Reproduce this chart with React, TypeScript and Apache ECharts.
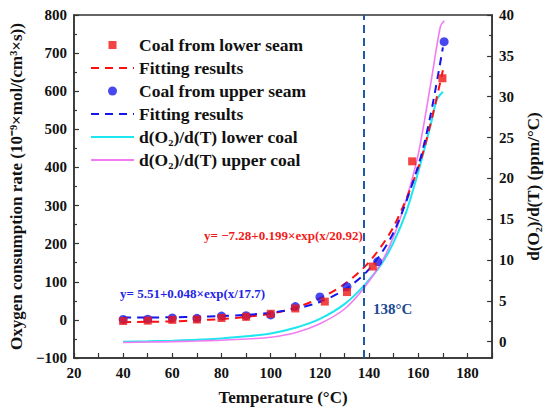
import React, { useEffect, useRef } from 'react';
import * as echarts from 'echarts';

const FONT = "'Times New Roman', 'Liberation Serif', serif";

// Experimental points
const tempLower = [40, 50, 60, 70, 80, 90, 100, 110, 122, 131, 141.5, 157.5, 169.8];
const rateLower = [-3, -2, 0, 1, 5, 8, 16, 30, 48, 73, 140, 416, 634];
const tempUpper = [40, 50, 60, 70, 80, 90, 100, 110, 120, 131, 143.5, 170.5];
const rateUpper = [1, 2, 5, 4, 10, 11, 13, 35, 60, 87, 153, 730];

// Fitted curves
const fitTemp = [40, 50, 60, 70, 80, 90, 100, 110, 120, 130, 140, 150, 160, 165, 170];
const fitLower = [-6, -5, -4, -1, 2, 8, 16, 32, 57, 94, 152, 245, 400, 515, 655];
const fitUpper = [6, 6.3, 7, 8, 10, 13, 19, 29, 47, 79, 133, 230, 405, 538, 715];

// d(O2)/d(T) curves (right axis)
const cyanTemp = [40, 50, 60, 70, 80, 90, 100, 110, 120, 130, 138, 145, 150, 155, 160, 165, 167.5, 170];
const cyanVals = [0, 0.05, 0.12, 0.22, 0.4, 0.65, 1.0, 1.7, 2.8, 4.6, 6.9, 9.5, 12.2, 15.8, 20.8, 26.5, 29.6, 30.6];
const magTemp = [40, 50, 60, 70, 80, 90, 100, 110, 120, 130, 138, 145, 150, 155, 160, 165, 169, 170.6];
const magVals = [-0.1, -0.05, 0, 0.08, 0.18, 0.32, 0.55, 1.1, 2.2, 4.0, 6.6, 9.7, 12.9, 17.3, 23, 31.5, 38.6, 39.3];

// Axis ticks
const rightMajor = [0, 5, 10, 15, 20, 25, 30, 35, 40];
const rightMinor = [2.5, 7.5, 12.5, 17.5, 22.5, 27.5, 32.5, 37.5];

const zip = (xs: number[], ys: number[]) => xs.map((x, i) => [x, ys[i]]);

const axisCommon = {
  axisLine: { show: true, onZero: false, lineStyle: { color: '#333', width: 1.5 } },
  axisTick: { show: true, inside: true, length: 5, lineStyle: { color: '#333', width: 1.2 } },
  splitLine: { show: false },
};

const labelStyle = { fontFamily: FONT, fontWeight: 'bold' as const, fontSize: 15, color: '#111' };
const nameStyle = { fontFamily: FONT, fontWeight: 'bold' as const, fontSize: 17, color: '#111' };
const hiddenSymbol = { opacity: 0, color: 'transparent', borderWidth: 0 };

export default function App() {
  const ref = useRef<HTMLDivElement>(null);
  useEffect(() => {
    const chart = echarts.init(ref.current!, null, { renderer: 'svg' });
    const option: any = {
      animation: false,
      backgroundColor: '#fff',
      grid: { left: 68, right: 55, top: 15, bottom: 59, show: true, borderColor: '#333', borderWidth: 1.5 },
      legend: {
        orient: 'vertical',
        left: 90,
        top: 36,
        padding: 0,
        itemWidth: 43,
        itemHeight: 14,
        itemGap: 5,
        textStyle: { fontFamily: FONT, fontWeight: 'bold', fontSize: 17.5, color: '#111', lineHeight: 18 },
        data: [
          { name: 'Coal from lower seam', icon: 'path://M0,0L0,0M3,3h8v8h-8zM14,14L14,14' },
          { name: 'Fitting results', itemStyle: hiddenSymbol },
          { name: 'Coal from upper seam', icon: 'path://M0,0L0,0M2.5,7a4.5,4.5 0 1,0 9,0a4.5,4.5 0 1,0 -9,0zM14,14L14,14' },
          { name: 'Fitting results ', itemStyle: hiddenSymbol },
          { name: 'd(O₂)/d(T) lower coal', itemStyle: hiddenSymbol },
          { name: 'd(O₂)/d(T) upper coal', itemStyle: hiddenSymbol },
        ],
      },
      xAxis: {
        type: 'value',
        min: 20,
        max: 190,
        interval: 10,
        name: 'Temperature (°C)',
        nameLocation: 'middle',
        nameGap: 31,
        nameTextStyle: nameStyle,
        ...axisCommon,
        axisLabel: {
          ...labelStyle,
          margin: 7,
          formatter: (v: number) => (v % 20 === 0 && v <= 180 ? String(v) : ''),
        },
      },
      yAxis: [
        {
          type: 'value',
          min: -100,
          max: 800,
          interval: 100,
          position: 'left',
          name: 'Oxygen consumption rate (10⁻⁹×mol/(cm³×s))',
          nameLocation: 'middle',
          nameGap: 37,
          nameRotate: 90,
          nameTextStyle: nameStyle,
          ...axisCommon,
          minorTick: { show: true, splitNumber: 2, length: 3, lineStyle: { color: '#333', width: 1.2 } },
          axisLabel: {
            ...labelStyle,
            margin: 7,
            formatter: (v: number) => (v < 0 ? '\u2212' + Math.abs(v) : String(v)),
          },
        },
        {
          type: 'value',
          min: -2,
          max: 40,
          position: 'right',
          name: 'd(O₂)/d(T) (ppm/°C)',
          nameLocation: 'middle',
          nameGap: 25,
          nameRotate: 90,
          nameTextStyle: nameStyle,
          ...axisCommon,
          axisTick: { ...axisCommon.axisTick, customValues: rightMajor },
          axisLabel: { ...labelStyle, margin: 7, customValues: rightMajor },
        },
        {
          type: 'value',
          min: -2,
          max: 40,
          position: 'right',
          axisLine: { show: false },
          splitLine: { show: false },
          axisLabel: { show: false },
          axisTick: { show: true, inside: true, length: 3, customValues: rightMinor, lineStyle: { color: '#333', width: 1.2 } },
        },
      ],
      graphic: [
        {
          type: 'text',
          left: 204,
          top: 229,
          style: { text: 'y= \u22127.28+0.199×exp(x/20.92)', fill: '#f21b1b', font: `bold 13px ${FONT}` },
        },
        {
          type: 'text',
          left: 120,
          top: 287,
          style: { text: 'y= 5.51+0.048×exp(x/17.7)', fill: '#1f1fe6', font: `bold 13px ${FONT}` },
        },
        {
          type: 'text',
          left: 373,
          top: 301,
          style: { text: '138°C', fill: '#1d4a94', font: `bold 15px ${FONT}` },
        },
      ],
      series: [
        {
          name: 'Fitting results',
          type: 'line',
          yAxisIndex: 0,
          symbol: 'none',
          smooth: 0.3,
          data: zip(fitTemp, fitLower),
          lineStyle: { color: '#ff1010', width: 2, type: [8, 6] },
          itemStyle: { color: '#ff1010' },
          z: 2,
        },
        {
          name: 'Fitting results ',
          type: 'line',
          yAxisIndex: 0,
          symbol: 'none',
          smooth: 0.3,
          data: zip(fitTemp, fitUpper),
          lineStyle: { color: '#1515ee', width: 2, type: [8, 6] },
          itemStyle: { color: '#1515ee' },
          z: 2,
        },
        {
          name: 'd(O₂)/d(T) lower coal',
          type: 'line',
          yAxisIndex: 1,
          symbol: 'none',
          smooth: 0.3,
          data: zip(cyanTemp, cyanVals),
          lineStyle: { color: '#1ee6ee', width: 2 },
          itemStyle: { color: '#1ee6ee' },
          z: 1,
        },
        {
          name: 'd(O₂)/d(T) upper coal',
          type: 'line',
          yAxisIndex: 1,
          symbol: 'none',
          smooth: 0.3,
          data: zip(magTemp, magVals),
          lineStyle: { color: '#f27af2', width: 1.6 },
          itemStyle: { color: '#f27af2' },
          z: 1,
        },
        {
          name: 'Coal from upper seam',
          type: 'scatter',
          yAxisIndex: 0,
          symbol: 'circle',
          symbolSize: 9,
          data: zip(tempUpper, rateUpper),
          itemStyle: { color: '#1a1aee' },
          z: 3,
        },
        {
          name: 'Coal from lower seam',
          type: 'scatter',
          yAxisIndex: 0,
          symbol: 'rect',
          symbolSize: 8,
          data: zip(tempLower, rateLower),
          itemStyle: { color: '#f01515' },
          z: 4,
          markLine: {
            silent: true,
            symbol: ['none', 'none'],
            label: { show: false },
            lineStyle: { color: '#2059a8', width: 2, type: [8, 5] },
            data: [{ xAxis: 138 }],
          },
        },
      ],
    };
    chart.setOption(option);
    return () => chart.dispose();
  }, []);
  return <div ref={ref} style={{ position: 'absolute', left: 0, top: 0, width: 550, height: 417 }} />;
}
